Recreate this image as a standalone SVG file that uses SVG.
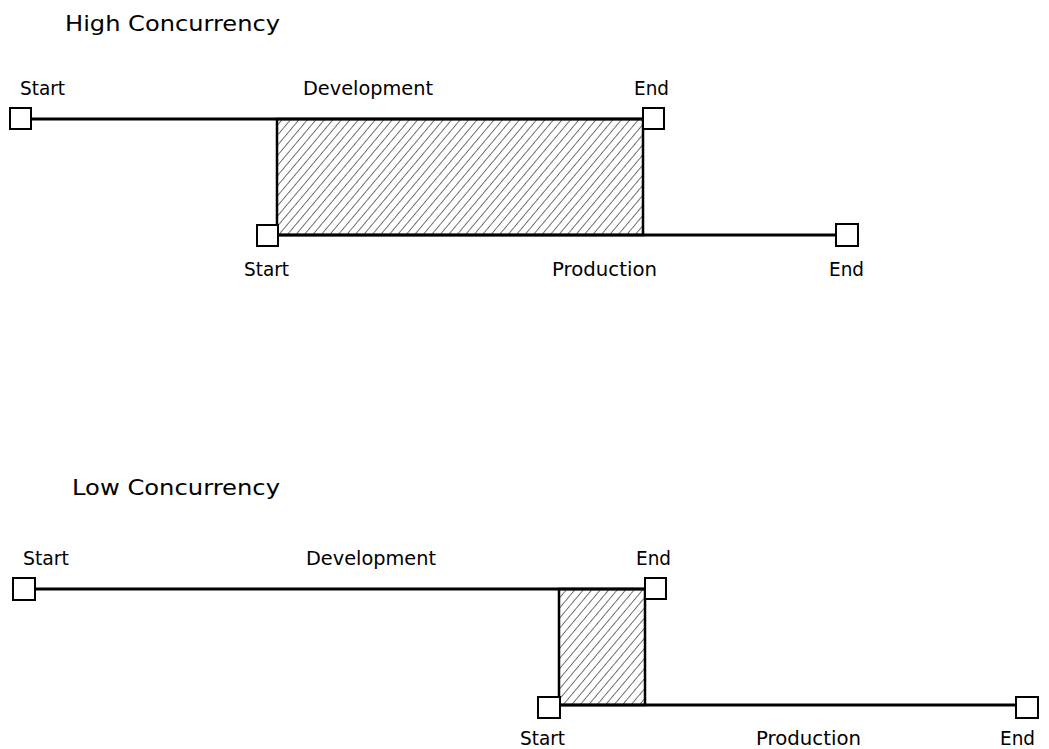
<svg xmlns="http://www.w3.org/2000/svg" width="1049" height="749" viewBox="0 0 1049 749">
<style>
.t{font-family:"DejaVu Sans","Noto Sans",sans-serif;font-size:19px;fill:#000}
.h{font-family:"DejaVu Sans","Noto Sans",sans-serif;font-size:22px;fill:#000}
.bar{stroke:#000;stroke-width:3;fill:none}
.sq{fill:#fff;stroke:#000;stroke-width:2}
.ov{fill:url(#hatch);stroke:#000;stroke-width:2.5}
</style>
<defs>
<pattern id="hatch" patternUnits="userSpaceOnUse" width="6.5" height="10" patternTransform="rotate(40)">
<line x1="0" y1="0" x2="0" y2="10" stroke="#000" stroke-width="1.1"/>
</pattern>
</defs>
<text class="h" x="65" y="31" textLength="215" lengthAdjust="spacingAndGlyphs">High Concurrency</text>
<text class="h" x="72" y="495" textLength="208" lengthAdjust="spacingAndGlyphs">Low Concurrency</text>
<g id="connectors">
<rect class="ov" x="277" y="119" width="366" height="116"/>
<rect class="ov" x="559" y="589" width="86" height="116"/>
<line class="bar" x1="31" y1="119" x2="643" y2="119"/>
<line class="bar" x1="278" y1="235" x2="836" y2="235"/>
<line class="bar" x1="35" y1="589" x2="645" y2="589"/>
<line class="bar" x1="560" y1="705" x2="1016" y2="705"/>
</g>
<g id="hc-dev-start"><rect class="sq" x="10" y="108" width="21" height="21"/><text class="t" x="20" y="95" textLength="45" lengthAdjust="spacingAndGlyphs">Start</text></g>
<g id="hc-dev-label"><text class="t" x="303" y="95" textLength="130" lengthAdjust="spacingAndGlyphs">Development</text></g>
<g id="hc-dev-end"><rect class="sq" x="643" y="108" width="21" height="21"/><text class="t" x="634" y="95" textLength="35" lengthAdjust="spacingAndGlyphs">End</text></g>
<g id="hc-prod-start"><rect class="sq" x="257" y="225" width="21" height="21"/><text class="t" x="244" y="276" textLength="45" lengthAdjust="spacingAndGlyphs">Start</text></g>
<g id="hc-prod-label"><text class="t" x="552" y="276" textLength="105" lengthAdjust="spacingAndGlyphs">Production</text></g>
<g id="hc-prod-end"><rect class="sq" x="836" y="224" width="22" height="22"/><text class="t" x="829" y="276" textLength="35" lengthAdjust="spacingAndGlyphs">End</text></g>
<g id="lc-dev-start"><rect class="sq" x="13" y="578" width="22" height="22"/><text class="t" x="23" y="565" textLength="46" lengthAdjust="spacingAndGlyphs">Start</text></g>
<g id="lc-dev-label"><text class="t" x="306" y="565" textLength="130" lengthAdjust="spacingAndGlyphs">Development</text></g>
<g id="lc-dev-end"><rect class="sq" x="645" y="578" width="21" height="21"/><text class="t" x="636" y="565" textLength="35" lengthAdjust="spacingAndGlyphs">End</text></g>
<g id="lc-prod-start"><rect class="sq" x="538" y="697" width="22" height="21"/><text class="t" x="520" y="745" textLength="45" lengthAdjust="spacingAndGlyphs">Start</text></g>
<g id="lc-prod-label"><text class="t" x="756" y="745" textLength="105" lengthAdjust="spacingAndGlyphs">Production</text></g>
<g id="lc-prod-end"><rect class="sq" x="1016" y="697" width="22" height="21"/><text class="t" x="1000" y="745" textLength="35" lengthAdjust="spacingAndGlyphs">End</text></g>
</svg>
